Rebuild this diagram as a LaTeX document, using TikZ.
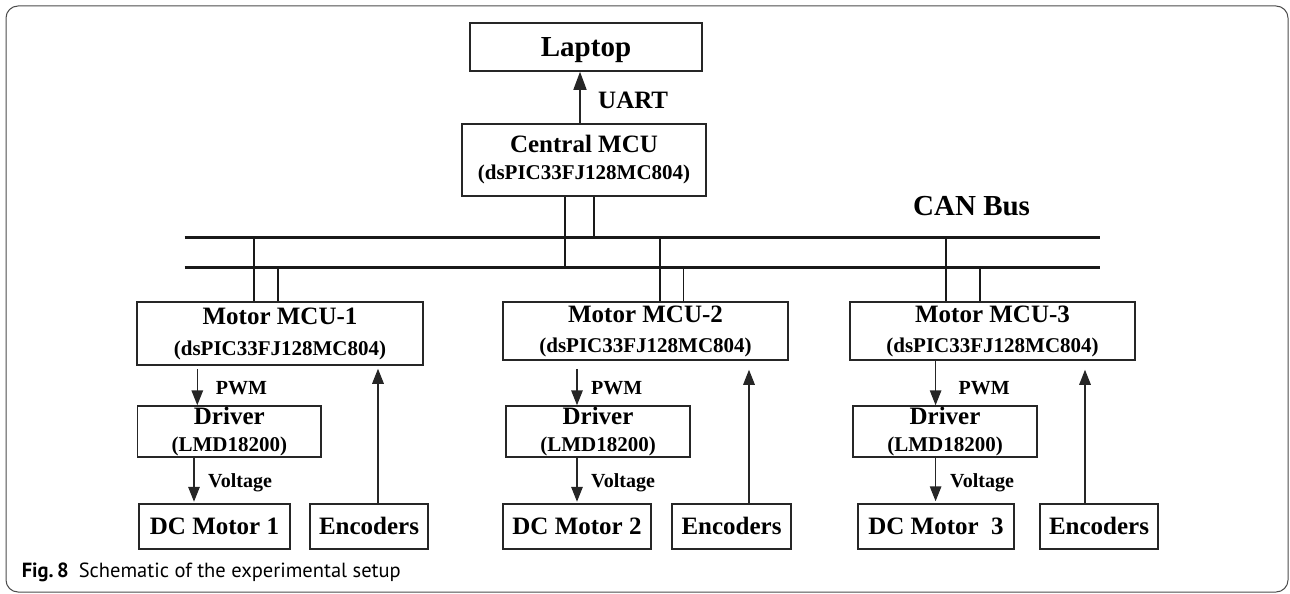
\documentclass[tikz,border=0pt]{standalone}
\usepackage{fontspec}
\setmainfont{Liberation Serif}
\newfontfamily\capfont{PT Sans}
\usetikzlibrary{arrows.meta,calc}
\begin{document}
\begin{tikzpicture}[x=1pt,y=-1pt,
  box/.style={draw=black!85,line width=1.5pt,inner sep=0pt,align=center,font=\bfseries},
  onebox/.style={box,text depth=0pt},
  arr/.style={line width=1.5pt,draw=black!85,-{Triangle[length=15pt,width=11.5pt]}},
  bigarr/.style={line width=1.5pt,draw=black!85,-{Triangle[length=18pt,width=13pt]}},
  bus/.style={line width=3pt,draw=black!90},
  drop/.style={line width=1.8pt,draw=black!90},
  lbl/.style={anchor=base west,inner sep=0pt,font=\bfseries\fontsize{20}{20}\selectfont},
  frame/.style={draw=black!70,line width=1pt,rounded corners=12pt}
]
\useasboundingbox (0,0) rectangle (1290,594);
\draw[frame] (6,6) rectangle (1288,592);

% top
\node[onebox,minimum width=232pt,minimum height=48pt,text height=19pt,
      font=\bfseries\fontsize{29}{29}\selectfont] (lap) at (586,47) {Laptop};
\node[box,minimum width=244pt,minimum height=72pt,font=\bfseries\fontsize{25}{27}\selectfont]
  (cen) at (584,160) {Central MCU\\{\fontsize{21}{27}\selectfont (dsPIC33FJ128MC804)}};
\draw[bigarr] (cen.north -| 580,0) -- (lap.south -| 580,0);
\node[anchor=base west,inner sep=0pt,font=\bfseries\fontsize{25}{25}\selectfont] (uart) at (598,108) {UART};

% bus
\coordinate (busAL) at (184.5,237);
\coordinate (busAR) at (1100,237);
\coordinate (busBL) at (184.5,267);
\coordinate (busBR) at (1100,267);
\draw[bus] (busAL) -- (busAR);
\draw[bus] (busBL) -- (busBR);
\node[anchor=base west,inner sep=0pt,font=\bfseries\fontsize{29}{29}\selectfont] (can) at (913,215) {CAN Bus};
\draw[drop] (cen.south -| 565,0) -- (565,0 |- busBL);
\draw[drop] (cen.south -| 594,0) -- (594,0 |- busAL);

% motor MCUs
\node[box,minimum width=286pt,minimum height=63pt,font=\bfseries\fontsize{25}{31}\selectfont]
  (m1) at (280,333.5) {Motor MCU-1\\{\fontsize{21}{31}\selectfont (dsPIC33FJ128MC804)}};
\node[box,minimum width=285pt,minimum height=58pt,font=\bfseries\fontsize{25}{30}\selectfont]
  (m2) at (645.5,331) {Motor MCU-2\\{\fontsize{21}{30}\selectfont (dsPIC33FJ128MC804)}};
\node[box,minimum width=285pt,minimum height=58pt,font=\bfseries\fontsize{25}{30}\selectfont]
  (m3) at (992.5,331) {Motor MCU-3\\{\fontsize{21}{30}\selectfont (dsPIC33FJ128MC804)}};

\draw[drop] (m1.north -| 254,0) -- (254,0 |- busAL);
\draw[drop] (m1.north -| 278,0) -- (278,0 |- busBL);
\draw[drop] (m2.north -| 660,0) -- (660,0 |- busAL);
\draw[drop] (m2.north -| 683.5,0) -- (683.5,0 |- busBL);
\draw[drop] (m3.north -| 945.7,0) -- (945.7,0 |- busAL);
\draw[drop] (m3.north -| 980,0) -- (980,0 |- busBL);

% drivers
\node[box,minimum width=183.4pt,minimum height=51pt,font=\bfseries\fontsize{25}{27}\selectfont]
  (d1) at (229.3,431.5) {Driver\\{\fontsize{21}{27}\selectfont (LMD18200)}};
\node[box,minimum width=184pt,minimum height=51pt,font=\bfseries\fontsize{25}{27}\selectfont]
  (d2) at (598,431.5) {Driver\\{\fontsize{21}{27}\selectfont (LMD18200)}};
\node[box,minimum width=184pt,minimum height=51pt,font=\bfseries\fontsize{25}{27}\selectfont]
  (d3) at (945,431.5) {Driver\\{\fontsize{21}{27}\selectfont (LMD18200)}};

% motors and encoders
\tikzset{bot/.style={onebox,minimum height=45pt,text height=16.5pt,font=\bfseries\fontsize{25}{25}\selectfont}}
\node[bot,minimum width=151pt] (mo1) at (214.5,526.5) {DC Motor 1};
\node[bot,minimum width=148pt] (mo2) at (577,526.5) {DC Motor 2};
\node[bot,minimum width=156pt] (mo3) at (936,526.5) {DC Motor\ \ 3};
\node[bot,minimum width=118pt] (e1) at (369,526.5) {Encoders};
\node[bot,minimum width=119pt] (e2) at (731.5,526.5) {Encoders};
\node[bot,minimum width=118pt] (e3) at (1099,526.5) {Encoders};

% PWM arrows
\draw[arr,shorten <=3pt] (m1.south -| 197.3,0) -- (d1.north -| 197.3,0);
\draw[arr,shorten <=8pt] (m2.south -| 577,0) -- (d2.north -| 577,0);
\draw[arr] (m3.south -| 935.6,0) -- (d3.north -| 935.6,0);
\node[lbl] (pwm1) at (215.6,394) {PWM};
\node[lbl] (pwm2) at (591,394) {PWM};
\node[lbl] (pwm3) at (958.4,394) {PWM};

% Voltage arrows
\draw[arr,shorten >=1.5pt] (d1.south -| 194,0) -- (mo1.north -| 194,0);
\draw[arr,shorten >=1.5pt] (d2.south -| 577,0) -- (mo2.north -| 577,0);
\draw[arr,shorten >=2pt] (d3.south -| 935.6,0) -- (mo3.north -| 935.6,0);
\node[lbl] (v1) at (208,487) {Voltage};
\node[lbl] (v2) at (591,487) {Voltage};
\node[lbl] (v3) at (950,487) {Voltage};

% encoder arrows
\draw[arr,shorten >=3pt] (e1.north -| 378,0) -- (m1.south -| 378,0);
\draw[arr,shorten >=9pt] (e2.north -| 749,0) -- (m2.south -| 749,0);
\draw[arr,shorten >=9pt] (e3.north -| 1085,0) -- (m3.south -| 1085,0);

% caption
\node[anchor=base west,inner sep=0pt,font=\capfont\fontsize{20.5}{20.5}\selectfont] (cap) at (21.6,577)
  {\textbf{Fig.\,8}\hspace{10pt}Schematic of the experimental setup};
\end{tikzpicture}
\end{document}
